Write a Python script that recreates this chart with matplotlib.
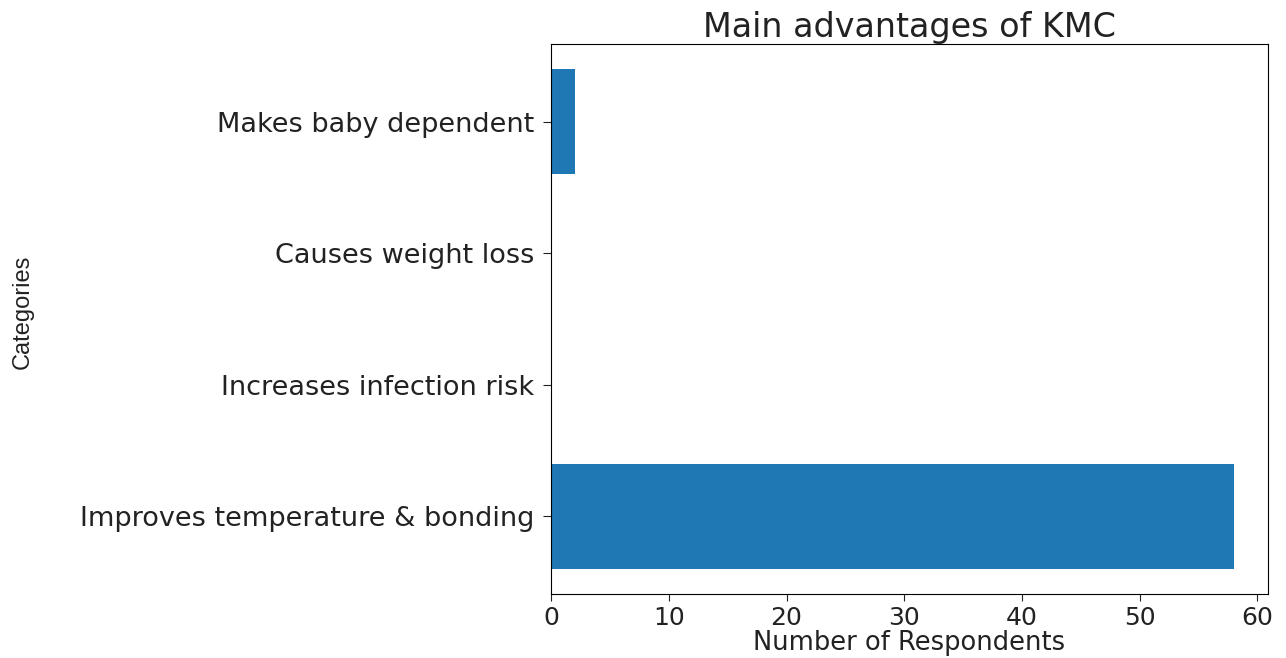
import matplotlib
matplotlib.use("Agg")
import matplotlib.pyplot as plt
from matplotlib import font_manager

categories = ["Improves temperature & bonding", "Increases infection risk",
              "Causes weight loss", "Makes baby dependent"]
counts = [58, 0, 0, 2]
xticks = [0, 10, 20, 30, 40, 50, 60]

names = {f.name for f in font_manager.fontManager.ttflist}
narrow = "Liberation Sans Narrow" if "Liberation Sans Narrow" in names else "Liberation Sans"

fig = plt.figure(figsize=(12.86, 6.58), dpi=100)
ax = fig.add_axes([0.4285, 0.0973, 0.5575, 0.8357])
ax.barh(categories, counts, color="#1f77b4")
ax.set_xticks(xticks)
ax.tick_params(axis="y", labelsize=19.5, colors="#222222", length=6, pad=6)
ax.tick_params(axis="x", labelsize=18, colors="#222222", length=5, pad=4)
ax.set_title("Main advantages of KMC", fontsize=24, color="#222222", pad=5)
ax.set_xlabel("Number of Respondents", fontsize=18.5, color="#222222", labelpad=0)
fig.text(0.018, 0.526, "Categories", rotation=90, va="center", ha="center",
         fontsize=17, family=[narrow, "DejaVu Sans"], color="#222222")
fig.savefig("out.png", dpi=100)
